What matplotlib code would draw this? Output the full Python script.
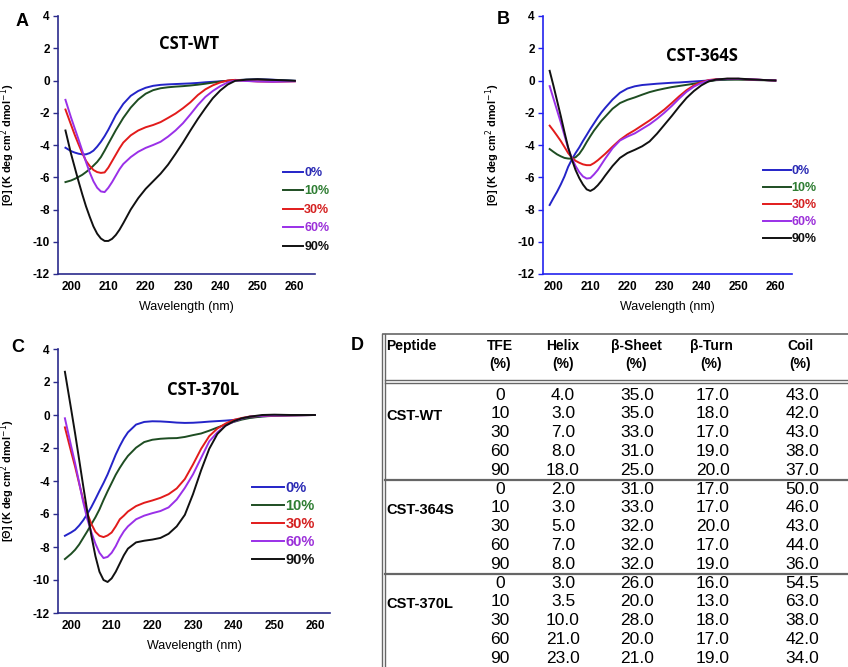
import matplotlib
matplotlib.use("Agg")
import matplotlib.pyplot as plt

plt.rcParams['font.family'] = ['Liberation Sans', 'DejaVu Sans']
plt.rcParams['axes.unicode_minus'] = False

# wavelengths (nm) for each panel
wl_a = [198.5, 200, 201, 202, 203, 204, 205, 206, 207, 208, 209, 210, 211, 212, 213, 214, 216, 218, 220, 222,
        224, 226, 228, 230, 232, 234, 236, 238, 240, 242, 244, 247, 250, 254, 260]
wl_b = [199] + wl_a[1:]
wl_c = wl_a

tfe_labels = ["0%", "10%", "30%", "60%", "90%"]

# CST-WT ellipticity (K deg cm2 dmol-1)
wt_0 = [-4.17, -4.38, -4.47, -4.54, -4.58, -4.58, -4.5, -4.35, -4.1, -3.8, -3.45, -3.05, -2.6, -2.15, -1.8, -1.45,
        -0.95, -0.65, -0.45, -0.33, -0.27, -0.24, -0.22, -0.2, -0.18, -0.15, -0.11, -0.08, -0.05, -0.02, 0.02, 0.05,
        0.08, 0.05, -0.02]
wt_10 = [-6.3, -6.2, -6.1, -5.98, -5.85, -5.68, -5.5, -5.28, -5.05, -4.75, -4.35, -3.92, -3.5, -3.08, -2.7, -2.32,
         -1.68, -1.18, -0.82, -0.6, -0.48, -0.42, -0.38, -0.35, -0.31, -0.26, -0.2, -0.13, -0.07, -0.02, 0.02, 0.05,
         0.05, 0.03, -0.02]
wt_30 = [-1.8, -2.75, -3.38, -3.95, -4.5, -4.98, -5.3, -5.55, -5.68, -5.73, -5.7, -5.4, -5.0, -4.6, -4.2, -3.85,
         -3.4, -3.1, -2.9, -2.76, -2.58, -2.32, -2.05, -1.72, -1.35, -0.9, -0.55, -0.3, -0.12, 0.0, 0.04, -0.02,
         -0.06, -0.08, -0.05]
wt_60 = [-1.2, -2.3, -2.98, -3.65, -4.35, -5.05, -5.7, -6.25, -6.65, -6.88, -6.92, -6.65, -6.3, -5.9, -5.5, -5.18,
         -4.75, -4.42, -4.18, -4.0, -3.8, -3.48, -3.1, -2.65, -2.1, -1.52, -1.02, -0.65, -0.35, -0.12, 0.0, -0.03,
         -0.06, -0.08, -0.05]
wt_90 = [-3.1, -4.55, -5.4, -6.25, -7.05, -7.8, -8.45, -9.05, -9.5, -9.8, -9.95, -9.95, -9.82, -9.58, -9.25, -8.85,
         -8.0, -7.3, -6.72, -6.25, -5.78, -5.22, -4.55, -3.85, -3.1, -2.38, -1.72, -1.1, -0.62, -0.25, -0.02, 0.05,
         0.08, 0.04, -0.02]

# CST-364S
s_0 = [-7.72, -7.3, -6.9, -6.45, -5.95, -5.35, -4.9, -4.5, -4.15, -3.75, -3.38, -3.0, -2.65, -2.3, -1.98, -1.7,
       -1.18, -0.76, -0.5, -0.36, -0.28, -0.24, -0.2, -0.17, -0.14, -0.12, -0.09, -0.06, -0.03, 0.0, 0.03, 0.07,
       0.1, 0.06, 0.0]
s_10 = [-4.25, -4.42, -4.58, -4.7, -4.8, -4.84, -4.85, -4.76, -4.55, -4.22, -3.82, -3.45, -3.1, -2.8, -2.5, -2.25,
        -1.75, -1.4, -1.2, -1.05, -0.88, -0.72, -0.6, -0.5, -0.41, -0.34, -0.27, -0.2, -0.12, -0.05, 0.02, 0.05,
        0.05, 0.03, 0.0]
s_30 = [-2.8, -3.1, -3.42, -3.75, -4.12, -4.5, -4.78, -4.98, -5.1, -5.2, -5.25, -5.25, -5.12, -4.95, -4.75, -4.55,
        -4.1, -3.68, -3.35, -3.08, -2.78, -2.48, -2.15, -1.8, -1.4, -0.98, -0.6, -0.3, -0.1, 0.03, 0.08, 0.1,
        0.1, 0.06, 0.0]
s_60 = [-0.35, -1.1, -1.85, -2.6, -3.4, -4.2, -4.8, -5.3, -5.68, -5.95, -6.08, -6.05, -5.82, -5.55, -5.2, -4.85,
        -4.2, -3.72, -3.48, -3.28, -3.0, -2.72, -2.38, -2.0, -1.58, -1.12, -0.7, -0.38, -0.15, 0.0, 0.06, 0.1,
        0.1, 0.06, 0.0]
s_90 = [0.6, -0.3, -1.25, -2.2, -3.2, -4.15, -4.9, -5.55, -6.05, -6.45, -6.75, -6.85, -6.72, -6.5, -6.22, -5.9,
        -5.3, -4.8, -4.5, -4.3, -4.08, -3.78, -3.3, -2.75, -2.2, -1.62, -1.08, -0.65, -0.3, -0.05, 0.06, 0.12,
        0.12, 0.06, 0.0]

# CST-370L
l_0 = [-7.32, -7.12, -6.96, -6.7, -6.38, -6.0, -5.58, -5.1, -4.6, -4.12, -3.6, -3.0, -2.4, -1.88, -1.42, -1.05,
       -0.58, -0.42, -0.38, -0.39, -0.42, -0.46, -0.48, -0.47, -0.44, -0.4, -0.37, -0.34, -0.3, -0.22, -0.15, -0.08,
       -0.04, -0.02, 0.0]
l_10 = [-8.73, -8.42, -8.17, -7.85, -7.45, -7.05, -6.62, -6.2, -5.72, -5.15, -4.62, -4.12, -3.62, -3.2, -2.82, -2.48,
        -1.98, -1.64, -1.5, -1.44, -1.41, -1.4, -1.33, -1.22, -1.12, -0.95, -0.76, -0.58, -0.42, -0.28, -0.18, -0.09,
        -0.05, -0.02, 0.0]
l_30 = [-0.75, -2.2, -3.13, -4.15, -5.15, -5.95, -6.6, -7.08, -7.32, -7.4, -7.3, -7.12, -6.75, -6.32, -6.1, -5.85,
        -5.52, -5.32, -5.18, -5.02, -4.8, -4.45, -3.88, -3.0, -2.05, -1.28, -0.82, -0.52, -0.3, -0.18, -0.09, -0.05,
        -0.03, -0.02, 0.0]
l_60 = [-0.2, -1.85, -2.92, -4.1, -5.28, -6.3, -7.1, -7.8, -8.35, -8.67, -8.6, -8.35, -7.95, -7.45, -7.05, -6.75,
        -6.32, -6.1, -5.95, -5.82, -5.6, -5.12, -4.42, -3.6, -2.6, -1.6, -1.05, -0.65, -0.4, -0.22, -0.1, -0.05,
        -0.03, -0.02, 0.0]
l_90 = [2.62, 0.4, -1.11, -2.7, -4.3, -5.85, -7.3, -8.55, -9.5, -10.0, -10.12, -9.9, -9.5, -9.0, -8.5, -8.1,
        -7.72, -7.62, -7.55, -7.45, -7.2, -6.75, -6.05, -4.8, -3.35, -2.05, -1.15, -0.65, -0.38, -0.2, -0.1, 0.0,
        0.02, 0.0, 0.0]

# table D
peptides = ["CST-WT", "CST-364S", "CST-370L"]
tfe = ["0", "10", "30", "60", "90"]
helix = [["4.0", "3.0", "7.0", "8.0", "18.0"], ["2.0", "3.0", "5.0", "7.0", "8.0"], ["3.0", "3.5", "10.0", "21.0", "23.0"]]
sheet = [["35.0", "35.0", "33.0", "31.0", "25.0"], ["31.0", "33.0", "32.0", "32.0", "32.0"], ["26.0", "20.0", "28.0", "20.0", "21.0"]]
turn = [["17.0", "18.0", "17.0", "19.0", "20.0"], ["17.0", "17.0", "20.0", "17.0", "19.0"], ["16.0", "13.0", "18.0", "17.0", "19.0"]]
coil = [["43.0", "42.0", "43.0", "38.0", "37.0"], ["50.0", "46.0", "43.0", "44.0", "36.0"], ["54.5", "63.0", "38.0", "42.0", "34.0"]]
headers = [("Peptide", "", 386, "left"), ("TFE", "(%)", 500, "center"), ("Helix", "(%)", 563, "center"),
           ("β-Sheet", "(%)", 636, "center"), ("β-Turn", "(%)", 711, "center"), ("Coil", "(%)", 800, "center")]

line_colors = ['#2424c8', '#1e4d22', '#e21b1b', '#9a30e8', '#111111']
text_colors = ['#2a2ab4', '#2e7d32', '#d42020', '#9b30d9', '#111111']

W, H = 848, 667
fig = plt.figure(figsize=(W / 100, H / 100), dpi=100)


def px_axes(left, top, right, bottom):
    return fig.add_axes([left / W, 1 - bottom / H, (right - left) / W, (bottom - top) / H])


def cd_panel(box, xlim, wl, series, title, title_xy, spine_col, letter, letter_xy, leg_xy, leg_size, handle_len, spacing):
    ax = px_axes(*box)
    for ys, c, lab in zip(series, line_colors, tfe_labels):
        ax.plot(wl, ys, color=c, lw=1.4, label=lab)
    ax.set_xlim(*xlim)
    ax.set_ylim(-12, 4)
    ax.set_xticks(range(200, 261, 10))
    ax.set_yticks(range(-12, 5, 2))
    for s in ['top', 'right']:
        ax.spines[s].set_visible(False)
    for s in ['left', 'bottom']:
        ax.spines[s].set_color(spine_col)
        ax.spines[s].set_linewidth(1.2)
    ax.tick_params(axis='y', length=3.5, width=1.0, color=spine_col, pad=2.5, labelsize=8.5)
    ax.tick_params(axis='x', length=0, pad=5, labelsize=8.5)
    for t in ax.get_xticklabels() + ax.get_yticklabels():
        t.set_fontweight('bold')
    ax.set_ylabel('[Θ] (K deg cm$^{2}$ dmol$^{-1}$)', fontsize=7.8, fontweight='bold')
    ax.yaxis.set_label_coords(-41 / (box[2] - box[0]), 0.5)
    ax.set_xlabel('Wavelength (nm)', fontsize=9)
    ax.xaxis.set_label_coords(0.5, -27 / (box[3] - box[1]))
    fig.text(title_xy[0] / W, 1 - title_xy[1] / H, title, fontsize=12, fontweight='bold',
             family=['Open Sans', 'DejaVu Sans'], ha='center', va='center')
    fig.text(letter_xy[0] / W, 1 - letter_xy[1] / H, letter, fontsize=13, fontweight='bold',
             ha='center', va='center')
    ax.legend(loc='upper left', bbox_to_anchor=(leg_xy[0] / W, 1 - leg_xy[1] / H),
              bbox_transform=fig.transFigure, frameon=False, borderpad=0, borderaxespad=0,
              handlelength=handle_len, handletextpad=0.1, labelspacing=spacing,
              labelcolor=text_colors, prop={'size': leg_size, 'weight': 'bold'})
    return ax


cd_panel((58, 16, 315, 274), (196.5, 265.4), wl_a, [wt_0, wt_10, wt_30, wt_60, wt_90], "CST-WT", (189, 44),
         '#2b2b8c', "A", (22, 21), (283, 167), 9, 1.6, 0.52)
cd_panel((543, 16, 792, 274), (197.2, 264.5), wl_b, [s_0, s_10, s_30, s_60, s_90], "CST-364S", (702, 56),
         '#2222ee', "B", (503, 19), (763, 165), 9, 2.2, 0.4)
cd_panel((58, 349, 330, 613), (196.8, 263.7), wl_c, [l_0, l_10, l_30, l_60, l_90], "CST-370L", (203, 390),
         '#2b2b8c', "C", (18, 348), (252, 481), 10.5, 2.2, 0.28)

# table D on a pixel-space overlay
tx = fig.add_axes([0, 0, 1, 1], zorder=-1)
tx.set_xlim(0, W)
tx.set_ylim(H, 0)
tx.axis('off')
tx.text(357, 345, "D", fontsize=13, fontweight='bold', ha='center', va='center')

grey = '#666666'
tx.plot([383, 848], [334, 334], color=grey, lw=1.2)
tx.plot([382, 382], [334, 667], color=grey, lw=1.0)
tx.plot([385, 385], [334, 667], color=grey, lw=1.0)
tx.plot([385, 848], [380, 380], color=grey, lw=1.0)
tx.plot([385, 848], [383, 383], color=grey, lw=1.0)

for name, sub, x, ha in headers:
    tx.text(x, 346, name, fontsize=10, fontweight='bold', ha=ha, va='center')
    if sub:
        tx.text(x, 364, sub, fontsize=10, fontweight='bold', ha=ha, va='center')

row_step = 18.8
for g, pep in enumerate(peptides):
    y0 = 395 + g * 5 * row_step
    tx.text(386, y0 + row_step + 2, pep, fontsize=10.5, fontweight='bold', ha='left', va='center')
    for i in range(5):
        y = y0 + i * row_step
        tx.text(500, y, tfe[i], fontsize=12.5, ha='center', va='center')
        tx.text(563, y, helix[g][i], fontsize=12.5, ha='center', va='center')
        tx.text(637, y, sheet[g][i], fontsize=12.5, ha='center', va='center')
        tx.text(713, y, turn[g][i], fontsize=12.5, ha='center', va='center')
        tx.text(802, y, coil[g][i], fontsize=12.5, ha='center', va='center')
    if g < 2:
        ysep = y0 + 4.5 * row_step
        tx.plot([385, 848], [ysep, ysep], color=grey, lw=1.6)

fig.savefig("out.png", dpi=100)
